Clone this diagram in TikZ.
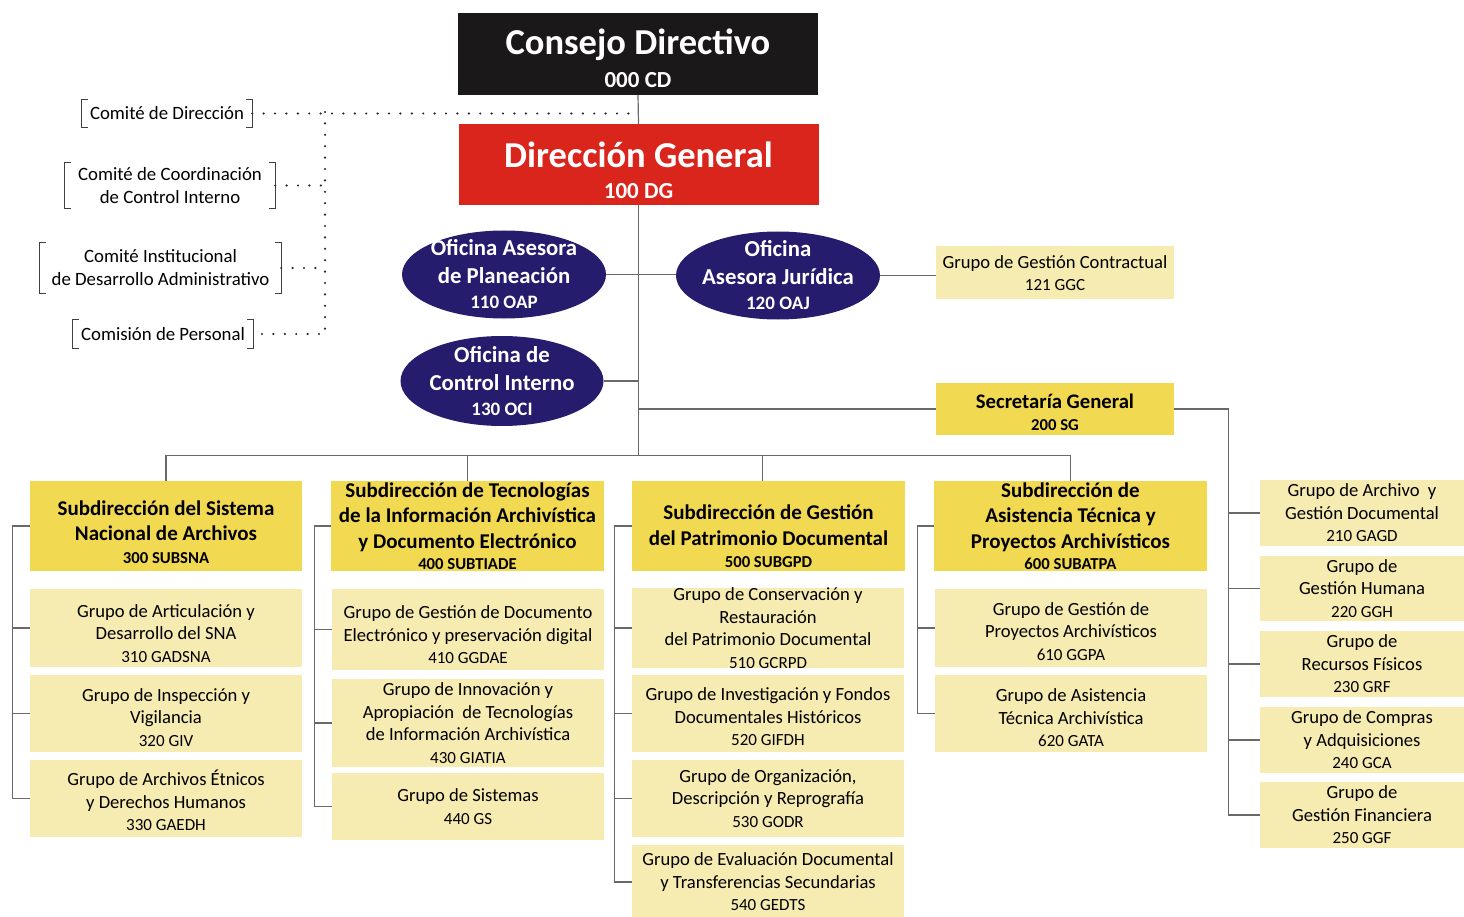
\documentclass[tikz,border=0pt]{standalone}
\usepackage{fontspec}
\setmainfont{Carlito}
\usepackage{xcolor}
\usepackage{tikz}
\usetikzlibrary{shapes.geometric,positioning,calc}

\definecolor{cdblack}{RGB}{26,24,24}
\definecolor{dgred}{RGB}{218,37,29}
\definecolor{ofinavy}{RGB}{38,28,110}
\definecolor{subyel}{RGB}{242,217,82}
\definecolor{grpyel}{RGB}{246,235,176}
\definecolor{lngray}{RGB}{105,105,105}

\tikzset{
  ln/.style={draw=lngray,line width=1.2pt},
  dotln/.style={draw=black!85,line width=2.4pt,dash pattern=on 0pt off 11.4pt,line cap=round},
  brkln/.style={draw=black!75,line width=1pt},
  comite/.style={align=center,inner sep=0pt,font=\fontsize{18.8}{23}\selectfont},
  top/.style={text=white,minimum width=360,minimum height=82,inner sep=0pt,align=center,font=\bfseries\fontsize{36.5}{37}\selectfont},
  ofi/.style={ellipse,fill=ofinavy,text=white,minimum width=204,minimum height=88,inner xsep=-12pt,inner ysep=-14pt,align=center,font=\bfseries\fontsize{22.8}{28}\selectfont},
  sub/.style={fill=subyel,minimum width=273,minimum height=90,inner sep=0pt,align=center,font=\bfseries\fontsize{21}{25.5}\selectfont},
  grp/.style={fill=grpyel,minimum width=272,inner sep=0pt,align=center,font=\fontsize{18.6}{22.5}\selectfont},
  grpr/.style={grp,minimum width=204},
}
\newcommand{\cod}[1]{{\fontsize{17}{18}\selectfont #1}}
\newcommand{\subcod}[1]{{\fontsize{16.7}{18}\selectfont #1}}
\newcommand{\gs}[1]{\rule{0pt}{#1pt}}

\begin{document}
\begin{tikzpicture}[x=1pt,y=-1pt]
    \useasboundingbox (0,0) rectangle (1464,917);

    % direccion
    \node[top,fill=cdblack] (cd) at (638,54) {\gs{34}Consejo Directivo\\[-4pt]{\fontsize{23}{24}\selectfont 000 CD}};
    \node[top,fill=dgred,minimum height=81] (dg) at (638.5,164.5) {\gs{38}Dirección General\\[-6pt]{\fontsize{23}{24}\selectfont 100 DG}};

    % comites
    \node[comite,minimum width=170,minimum height=27] (cdir) at (167,113.5) {Comité de Dirección};
    \node[comite,minimum width=210,minimum height=45] (ccci) at (170,185.5) {Comité de Coordinación\\de Control Interno};
    \node[comite,minimum width=241,minimum height=50] (cida) at (160.5,268) {Comité Institucional\\de Desarrollo Administrativo};
    \node[comite,minimum width=180,minimum height=28] (cper) at (163,334) {Comisión de Personal};
    \foreach \n in {cdir,ccci,cida,cper} {
        \draw[brkln] ([xshift=6]\n.north west) -- (\n.north west) -- (\n.south west) -- ++(6,0);
        \draw[brkln] ([xshift=-6]\n.north east) -- (\n.north east) -- (\n.south east) -- ++(-6,0);
    }

    % oficinas
    \node[ofi] (oap) at (504,274.5) {Oficina Asesora\\de Planeación\\[-3pt]{\fontsize{19}{20}\selectfont 110 OAP}};
    \node[ofi] (oaj) at (778,275.5) {Oficina\\Asesora Jurídica\\[-3pt]{\fontsize{19}{20}\selectfont 120 OAJ}};
    \node[ofi,minimum width=203,minimum height=90] (oci) at (502,381) {Oficina de\\Control Interno\\[-3pt]{\fontsize{19}{20}\selectfont 130 OCI}};
    \node[grp,minimum width=238,minimum height=53] (ggc) at (1055,273) {Grupo de Gestión Contractual\\\cod{121 GGC}};
    \node[sub,minimum width=238,minimum height=52,font=\bfseries\fontsize{20.7}{24}\selectfont] (sg) at (1055,409) {\gs{22}Secretaría General\\[-2pt]\subcod{200 SG}};

    % subdirecciones
    \node[sub,minimum width=272] (s300) at (166,526) {\gs{26.5}Subdirección del Sistema\\Nacional de Archivos\\[-3pt]\subcod{300 SUBSNA}};
    \node[sub] (s400) at (467.5,526) {Subdirección de Tecnologías\\de la Información Archivística\\y Documento Electrónico\\[-4pt]\subcod{400 SUBTIADE}};
    \node[sub] (s500) at (768.5,526) {\gs{36}Subdirección de Gestión\\del Patrimonio Documental\\[-3pt]\subcod{500 SUBGPD}};
    \node[sub] (s600) at (1070.5,526) {Subdirección de\\Asistencia Técnica y\\Proyectos Archivísticos\\[-4pt]\subcod{600 SUBATPA}};

    % grupos
    \node[grp,minimum height=78] (g310) at (166,628) {\gs{23.5}Grupo de Articulación y\\Desarrollo del SNA\\\cod{310 GADSNA}};
    \node[grp,minimum height=77] (g320) at (166,713.5) {\gs{20.5}Grupo de Inspección y\\Vigilancia\\\cod{320 GIV}};
    \node[grp,minimum height=77] (g330) at (166,798.5) {\gs{20}Grupo de Archivos Étnicos\\y Derechos Humanos\\\cod{330 GAEDH}};

    \node[grp,minimum height=81] (g410) at (468,629.5) {\gs{23.5}Grupo de Gestión de Documento\\Electrónico y preservación digital\\\cod{410 GGDAE}};
    \node[grp,minimum height=88] (g430) at (468,723) {Grupo de Innovación y\\Apropiación\ \ de Tecnologías\\de Información Archivística\\\cod{430 GIATIA}};
    \node[grp,minimum height=67] (g440) at (468,806.5) {Grupo de Sistemas\\\cod{440 GS}};

    \node[grp,minimum height=78] (g510) at (768,628) {Grupo de Conservación y\\Restauración\\del Patrimonio Documental\\\cod{510 GCRPD}};
    \node[grp,minimum height=77] (g520) at (768,713.5) {\gs{19.5}Grupo de Investigación y Fondos\\Documentales Históricos\\\cod{520 GIFDH}};
    \node[grp,minimum height=77] (g530) at (768,798.5) {Grupo de Organización,\\Descripción y Reprografía\\\cod{530 GODR}};
    \node[grp,minimum height=74] (g540) at (768,882) {Grupo de Evaluación Documental\\y Transferencias Secundarias\\\cod{540 GEDTS}};

    \node[grp,minimum height=78] (g610) at (1071,628) {\gs{19.5}Grupo de Gestión de\\Proyectos Archivísticos\\\cod{610 GGPA}};
    \node[grp,minimum height=77] (g620) at (1071,713.5) {\gs{21.5}Grupo de Asistencia\\Técnica Archivística\\\cod{620 GATA}};

    \node[grpr,minimum height=66] (g210) at (1362,513) {Grupo de Archivo\ \ y\\Gestión Documental\\\cod{210 GAGD}};
    \node[grpr,minimum height=65] (g220) at (1362,588.5) {Grupo de\\Gestión Humana\\\cod{220 GGH}};
    \node[grpr,minimum height=66] (g230) at (1362,664) {Grupo de\\Recursos Físicos\\\cod{230 GRF}};
    \node[grpr,minimum height=66] (g240) at (1362,740) {Grupo de Compras\\y Adquisiciones\\\cod{240 GCA}};
    \node[grpr,minimum height=66] (g250) at (1362,815) {Grupo de\\Gestión Financiera\\\cod{250 GGF}};

    % lineas
    \draw[ln] (cd.south) -- (dg.north);
    \draw[ln] (dg.south) -- ++(0,250) coordinate (bus);
    \draw[ln] (oap.east) -- (oap.east -| oaj.west);
    \draw[ln] (oci.east) -- (oci.east -| dg.south);
    \draw[ln] (oaj.east) -- (oaj.east -| ggc.west);
    \draw[ln] (sg.west) -- (sg.west -| dg.south);
    \draw[ln] (s300.north) |- (bus) -| (s600.north);
    \draw[ln] (s400.north) -- (s400.north |- bus);
    \draw[ln] ([xshift=-6]s500.north) -- ([xshift=-6]s500.north |- bus);

    \draw[ln] (s300.west) -- ++(-17,0) coordinate (k3) |- (g330.west);
    \foreach \g in {g310,g320} \draw[ln] (\g.west) -- (\g.west -| k3);
    \draw[ln] (s400.west) -- ++(-16,0) coordinate (k4) |- (g440.west);
    \foreach \g in {g410,g430} \draw[ln] (\g.west) -- (\g.west -| k4);
    \draw[ln] (s500.west) -- ++(-17,0) coordinate (k5) |- (g540.west);
    \foreach \g in {g510,g520,g530} \draw[ln] (\g.west) -- (\g.west -| k5);
    \draw[ln] (s600.west) -- ++(-16,0) coordinate (k6) |- (g620.west);
    \draw[ln] (g610.west) -- (g610.west -| k6);
    \draw[ln] (sg.east) -- ++(54,0) coordinate (ks) |- (g250.west);
    \foreach \g in {g210,g220,g230,g240} \draw[ln] (\g.west) -- (\g.west -| ks);

    % comites punteado
    \coordinate (kd) at (325,112);
    \draw[dotln] (cdir.east) -- (cdir.east -| dg.north);
    \draw[dotln] (kd) |- (cper.east);
    \foreach \n in {ccci,cida} \draw[dotln] (\n.east) -- (\n.east -| kd);
\end{tikzpicture}
\end{document}
